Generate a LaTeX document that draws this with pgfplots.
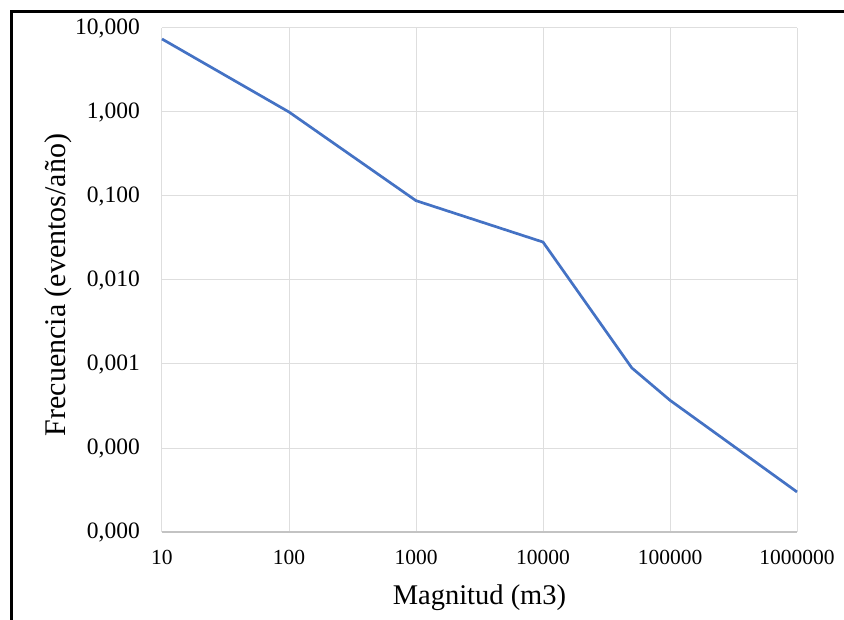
\documentclass[border=0pt]{standalone}
\usepackage{fontspec}
\setmainfont{Liberation Serif}
\usepackage{pgfplots}
\pgfplotsset{compat=1.18}
\definecolor{exblue}{RGB}{68,114,196}
\definecolor{gridgray}{RGB}{222,222,222}
\definecolor{axgray}{RGB}{195,195,195}

\begin{document}
\begin{tikzpicture}
\path[use as bounding box] (-162pt,-88pt) rectangle (682pt,532pt);
\begin{axis}[
  at={(0pt,0pt)}, anchor=south west,
  scale only axis,
  width=635pt, height=504pt,
  xmode=log, ymode=log,
  xmin=10, xmax=1000000,
  ymin=1e-5, ymax=10,
  xtick={10,100,1000,10000,100000,1000000},
  xticklabels={10,100,1000,10000,100000,1000000},
  ytick={1e-5,1e-4,1e-3,1e-2,1e-1,1,10},
  yticklabels={{0,000},{0,000},{0,001},{0,010},{0,100},{1,000},{10,000}},
  minor xtick={}, minor ytick={},
  tick style={draw=none},
  major tick length=0pt,
  grid=major,
  major grid style={draw=gridgray, line width=1pt},
  axis x line*=bottom,
  axis y line*=left,
  x axis line style={draw=axgray, line width=1.6pt, -},
  y axis line style={draw=none},
  xticklabel style={font=\fontsize{21.5}{24}\selectfont, inner sep=0pt, anchor=north, yshift=-18pt},
  yticklabel style={font=\fontsize{23.5}{25}\selectfont, inner sep=0pt, anchor=east, xshift=-22pt},
  /pgf/number format/assume math mode=true,
  xlabel={Magnitud (m3)},
  ylabel={Frecuencia (eventos/año)},
  xlabel style={font=\fontsize{28.5}{30}\selectfont, at={(axis description cs:0.5,-0.1448)}, anchor=base, inner sep=0pt},
  ylabel style={font=\fontsize{30}{32}\selectfont, at={(axis description cs:-0.1512,0.49)}, anchor=base, inner sep=0pt},
  clip=false,
]
\addplot[exblue, line width=2.7pt, no markers] coordinates {
  (10,7.4) (100,1.0) (1000,0.088) (10000,0.0283)
  (50000,0.00090) (100000,0.00037) (1000000,0.000030) };
\end{axis}
\draw[black, line width=3pt] (-150.5pt,-88pt) -- (-150.5pt,520.5pt) -- (682pt,520.5pt);
\end{tikzpicture}
\end{document}
